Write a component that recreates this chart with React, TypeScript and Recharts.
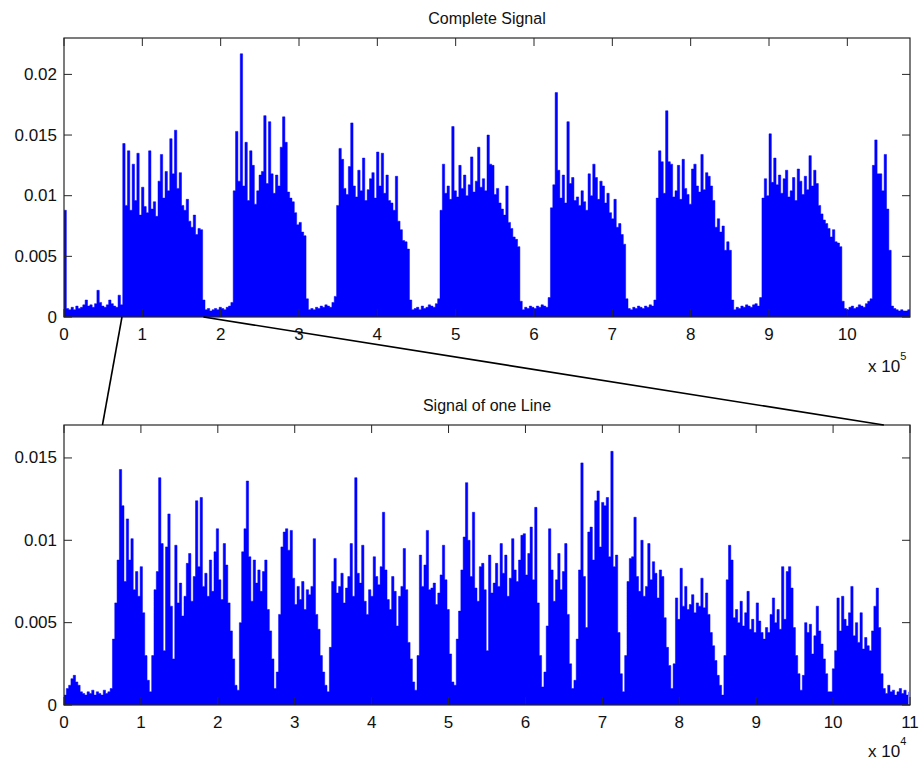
import React from 'react';
import { ComposedChart, Area, XAxis, YAxis } from 'recharts';

// Signal envelope values, in units of 1e-4 (multiplied by SCALE below)
const SCALE = 1e-4;
const TOP_STEP = 3000; // sample spacing of the complete signal
const BOTTOM_STEP = 300; // sample spacing of the one-line signal

const TOP_SIGNAL = [
  88,
  7, 6, 8, 6, 9, 7, 8, 10, 14, 9, 10, 8, 11, 22, 12, 9, 8, 10, 14, 11, 9, 8, 18, 10,
  143, 92, 137, 88, 126, 96, 135, 84, 107, 91, 86, 137, 89, 95, 83, 112, 134, 98, 120, 104, 147, 118, 154, 106, 119, 92, 88, 97, 79, 74, 84, 68, 73, 72,
  14, 6, 7, 5, 6, 7, 6, 8, 7, 6, 8, 9, 12,
  104, 153, 112, 217, 108, 144, 96, 137, 125, 93, 104, 117, 120, 166, 110, 161, 118, 102, 117, 108, 140, 165, 144, 103, 98, 95, 86, 76, 78, 70, 67,
  15, 6, 7, 6, 8, 7, 9, 8, 10, 9, 8, 12, 17,
  92, 139, 130, 106, 101, 124, 160, 108, 99, 121, 104, 131, 96, 105, 114, 119, 98, 136, 108, 135, 102, 117, 96, 94, 88, 116, 79, 72, 63, 62, 56,
  14, 6, 7, 8, 6, 9, 7, 8, 10, 9, 8, 11, 15,
  88, 126, 102, 108, 97, 157, 104, 99, 125, 106, 117, 100, 109, 132, 103, 112, 140, 107, 114, 104, 150, 126, 125, 101, 106, 94, 89, 84, 108, 78, 73, 66, 64, 58,
  13, 6, 8, 7, 9, 8, 7, 9, 8, 10, 9, 8, 16,
  90, 109, 185, 121, 98, 117, 94, 161, 110, 115, 96, 99, 92, 104, 95, 88, 118, 100, 126, 115, 97, 112, 108, 94, 102, 86, 81, 97, 74, 77, 68, 60,
  15, 7, 6, 8, 7, 9, 8, 7, 9, 8, 10, 9, 14,
  98, 137, 128, 102, 170, 128, 126, 99, 104, 125, 97, 130, 106, 101, 93, 122, 126, 108, 103, 134, 105, 119, 116, 108, 96, 74, 81, 70, 75, 55, 62, 55,
  14, 6, 8, 7, 9, 8, 10, 9, 8, 10, 11, 9, 16,
  98, 114, 100, 151, 111, 131, 109, 117, 102, 114, 121, 99, 104, 115, 96, 122, 112, 101, 116, 105, 133, 108, 121, 110, 92, 85, 80, 77, 73, 66, 72, 62, 61, 58,
  13, 7, 6, 8, 9, 7, 8, 10, 9, 8, 11, 13, 15,
  125, 146, 118, 118, 104, 134, 89, 55,
  9, 7, 6, 5, 6, 5, 5, 6, 5,
];

const BOTTOM_SIGNAL = [
  6, 10, 12, 16, 18, 14, 12, 8, 7, 6, 8, 7, 9, 6, 8, 7, 6, 9, 7, 8, 10,
  40, 62, 88, 143, 121, 75, 113, 88, 101, 70, 81, 66, 84, 56, 30, 15,
  8,
  30, 70, 81, 138, 98, 33, 96, 116, 60, 28, 97, 62, 74, 54, 66, 86, 92, 63, 78, 124, 84, 126, 72, 80, 66, 88, 69, 93, 107, 76, 64, 98, 85, 62, 45, 28, 12,
  9,
  50, 93, 107, 136, 90, 63, 88, 74, 82, 69, 81, 88, 58, 45, 28, 10,
  20, 55, 96, 105, 107, 94, 106, 77, 61, 72, 64, 75, 58, 70, 67, 72, 101, 55, 46, 30, 20, 12, 8,
  35, 75, 89, 68, 72, 80, 62, 71, 78, 98, 66, 138, 80, 74, 97, 63, 55, 70, 66, 90, 78, 73, 84, 117, 82, 64, 58, 78, 69, 48, 66, 72, 95, 70, 38, 28, 14, 9,
  30, 91, 72, 85, 106, 70, 71, 74, 61, 68, 79, 97, 76, 58, 31, 14,
  12, 40, 57, 82, 102, 135, 100, 78, 117, 71, 63, 84, 86, 70, 33, 91, 68, 74, 86, 72, 98, 80, 91, 66, 77, 101, 82, 75, 88, 103, 104, 79, 92, 108, 76, 120, 62, 30, 11,
  20, 48, 107, 82, 63, 76, 92, 70, 81, 98, 55, 25, 10,
  15, 40, 82, 147, 78, 47, 105, 108, 88, 124, 130, 96, 123, 121, 126, 90, 154, 84, 91, 44, 19, 8,
  30, 75, 89, 90, 114, 78, 69, 100, 66, 72, 98, 76, 87, 80, 65, 82, 78, 53, 35, 24, 10,
  25, 65, 52, 83, 60, 72, 58, 61, 67, 56, 62, 60, 77, 59, 68, 55, 44, 36, 27, 18, 12, 6,
  30, 76, 97, 88, 53, 58, 50, 63, 48, 56, 69, 46, 52, 44, 62, 51, 44, 40, 47, 44, 55, 65, 50, 58, 46, 84, 52, 81, 84, 71, 47, 30, 19, 9,
  18, 50, 44, 49, 31, 42, 60, 45, 37, 28, 19, 8,
  8, 22, 33, 65, 45, 66, 52, 48, 56, 72, 42, 50, 38, 56, 34, 41, 36, 33, 45, 60, 71, 47, 19, 10, 7,
  12, 8, 9, 6, 8, 10, 7, 9, 6, 8,
];

const TOP_X_TICKS = [0, 100000, 200000, 300000, 400000, 500000, 600000, 700000, 800000, 900000, 1000000];
const TOP_Y_TICKS = [0, 0.005, 0.01, 0.015, 0.02];
const BOTTOM_X_TICKS = [0, 10000, 20000, 30000, 40000, 50000, 60000, 70000, 80000, 90000, 100000, 110000];
const BOTTOM_Y_TICKS = [0, 0.005, 0.01, 0.015];

const TOP_X_MAX = 1080000;
const TOP_Y_MAX = 0.023;
const BOTTOM_X_MAX = 110000;
const BOTTOM_Y_MAX = 0.017;

const TOP_EXP = 5;
const BOTTOM_EXP = 4;

// zoom region: where the one-line excerpt sits in the complete signal
const ZOOM_TOP_RANGE = [74000, 178000];
const ZOOM_BOTTOM_RANGE = [5000, 106600];

const TITLE_TOP = 'Complete Signal';
const TITLE_BOTTOM = 'Signal of one Line';

const topRows = TOP_SIGNAL.map((v, i) => ({ x: i * TOP_STEP, v: v * SCALE }));
const bottomRows = BOTTOM_SIGNAL.map((v, i) => ({ x: i * BOTTOM_STEP, v: v * SCALE }));

// layout
const W = 922;
const H = 763;
const PLOT_LEFT = 64;
const PLOT_RIGHT = 910;
const PLOT_W = PLOT_RIGHT - PLOT_LEFT;
const TOP_CHART_Y = 0;
const TOP_CHART_H = 380;
const TOP_MARGIN = { top: 38, right: W - PLOT_RIGHT, bottom: 33, left: 0 };
const BOTTOM_CHART_Y = 387;
const BOTTOM_CHART_H = 376;
const BOTTOM_MARGIN = { top: 38, right: W - PLOT_RIGHT, bottom: 28, left: 0 };
const XAXIS_H = 30;
const TOP_PLOT_TOP = TOP_CHART_Y + TOP_MARGIN.top;
const TOP_PLOT_H = TOP_CHART_H - TOP_MARGIN.top - TOP_MARGIN.bottom - XAXIS_H;
const BOTTOM_PLOT_TOP = BOTTOM_CHART_Y + BOTTOM_MARGIN.top;
const BOTTOM_PLOT_H = BOTTOM_CHART_H - BOTTOM_MARGIN.top - BOTTOM_MARGIN.bottom - XAXIS_H;

const TICK_LEN = 8;
const AXIS_COLOR = '#262626';
const TEXT_COLOR = '#111';
const FONT = '"Liberation Sans", Arial, Helvetica, sans-serif';
const TICK_FONT = 17;
const BLUE = '#0000ff';

const makeXTick = (plotH: number, div: number) => (props: any) => {
  const { x, y, payload } = props;
  return (
    <g>
      <line x1={x} y1={y} x2={x} y2={y - TICK_LEN} stroke={AXIS_COLOR} strokeWidth={1} />
      <line x1={x} y1={y - plotH} x2={x} y2={y - plotH + TICK_LEN} stroke={AXIS_COLOR} strokeWidth={1} />
      <text x={x} y={y + 17} textAnchor="middle" dominantBaseline="central" fontSize={TICK_FONT} fontFamily={FONT} fill={TEXT_COLOR}>
        {String(Math.round(payload.value / div))}
      </text>
    </g>
  );
};

const makeYTick = () => (props: any) => {
  const { x, y, payload } = props;
  return (
    <g>
      <line x1={x} y1={y} x2={x + TICK_LEN} y2={y} stroke={AXIS_COLOR} strokeWidth={1} />
      <line x1={x + PLOT_W - TICK_LEN} y1={y} x2={x + PLOT_W} y2={y} stroke={AXIS_COLOR} strokeWidth={1} />
      <text x={x - 7} y={y} textAnchor="end" dominantBaseline="central" fontSize={TICK_FONT} fontFamily={FONT} fill={TEXT_COLOR}>
        {String(payload.value)}
      </text>
    </g>
  );
};

function SignalChart(props: {
  rows: { x: number; v: number }[];
  xMax: number;
  yMax: number;
  xTicks: number[];
  yTicks: number[];
  exp: number;
  height: number;
  margin: any;
  plotH: number;
}) {
  const { rows, xMax, yMax, xTicks, yTicks, exp, height, margin, plotH } = props;
  return (
    <ComposedChart width={W} height={height} data={rows} margin={margin}>
      <XAxis
        dataKey="x"
        type="number"
        domain={[0, xMax]}
        ticks={xTicks}
        interval={0}
        allowDataOverflow
        height={XAXIS_H}
        tickSize={0}
        tickMargin={0}
        axisLine={false}
        tickLine={false}
        tick={makeXTick(plotH, Math.pow(10, exp))}
      />
      <YAxis
        type="number"
        domain={[0, yMax]}
        ticks={yTicks}
        interval={0}
        allowDataOverflow
        width={PLOT_LEFT}
        tickSize={0}
        tickMargin={0}
        axisLine={false}
        tickLine={false}
        tick={makeYTick()}
      />
      <Area
        dataKey="v"
        type="stepAfter"
        stroke={BLUE}
        strokeWidth={0.5}
        fill={BLUE}
        fillOpacity={1}
        dot={false}
        activeDot={false}
        isAnimationActive={false}
      />
    </ComposedChart>
  );
}

export default function App() {
  const topFromX = PLOT_LEFT + (ZOOM_TOP_RANGE[0] / TOP_X_MAX) * PLOT_W;
  const topToX = PLOT_LEFT + (ZOOM_TOP_RANGE[1] / TOP_X_MAX) * PLOT_W;
  const botFromX = PLOT_LEFT + (ZOOM_BOTTOM_RANGE[0] / BOTTOM_X_MAX) * PLOT_W;
  const botToX = PLOT_LEFT + (ZOOM_BOTTOM_RANGE[1] / BOTTOM_X_MAX) * PLOT_W;
  const topBottomY = TOP_PLOT_TOP + TOP_PLOT_H;
  const cx = PLOT_LEFT + PLOT_W / 2;

  return (
    <div style={{ position: 'absolute', left: 0, top: 0, width: W, height: H, overflow: 'hidden', background: '#fff' }}>
      <div style={{ position: 'absolute', left: 0, top: TOP_CHART_Y }}>
        <SignalChart
          rows={topRows}
          xMax={TOP_X_MAX}
          yMax={TOP_Y_MAX}
          xTicks={TOP_X_TICKS}
          yTicks={TOP_Y_TICKS}
          exp={TOP_EXP}
          height={TOP_CHART_H}
          margin={TOP_MARGIN}
          plotH={TOP_PLOT_H}
        />
      </div>
      <div style={{ position: 'absolute', left: 0, top: BOTTOM_CHART_Y }}>
        <SignalChart
          rows={bottomRows}
          xMax={BOTTOM_X_MAX}
          yMax={BOTTOM_Y_MAX}
          xTicks={BOTTOM_X_TICKS}
          yTicks={BOTTOM_Y_TICKS}
          exp={BOTTOM_EXP}
          height={BOTTOM_CHART_H}
          margin={BOTTOM_MARGIN}
          plotH={BOTTOM_PLOT_H}
        />
      </div>
      <svg width={W} height={H} style={{ position: 'absolute', left: 0, top: 0, pointerEvents: 'none' }}>
        <rect x={PLOT_LEFT} y={TOP_PLOT_TOP} width={PLOT_W} height={TOP_PLOT_H} fill="none" stroke={AXIS_COLOR} strokeWidth={1.2} />
        <rect x={PLOT_LEFT} y={BOTTOM_PLOT_TOP} width={PLOT_W} height={BOTTOM_PLOT_H} fill="none" stroke={AXIS_COLOR} strokeWidth={1.2} />
        <text x={cx} y={18} textAnchor="middle" dominantBaseline="central" fontSize={16} fontFamily={FONT} fill={TEXT_COLOR}>
          {TITLE_TOP}
        </text>
        <text x={cx} y={405} textAnchor="middle" dominantBaseline="central" fontSize={16} fontFamily={FONT} fill={TEXT_COLOR}>
          {TITLE_BOTTOM}
        </text>
        <text x={868} y={372} fontSize={17} fontFamily={FONT} fill={TEXT_COLOR}>
          x 10<tspan fontSize={11} dy={-12}>{TOP_EXP}</tspan>
        </text>
        <text x={868} y={757} fontSize={17} fontFamily={FONT} fill={TEXT_COLOR}>
          x 10<tspan fontSize={11} dy={-12}>{BOTTOM_EXP}</tspan>
        </text>
        <line x1={topFromX} y1={topBottomY} x2={botFromX} y2={BOTTOM_PLOT_TOP} stroke="#000" strokeWidth={1.6} />
        <line x1={topToX} y1={topBottomY} x2={botToX} y2={BOTTOM_PLOT_TOP} stroke="#000" strokeWidth={1.6} />
      </svg>
    </div>
  );
}
